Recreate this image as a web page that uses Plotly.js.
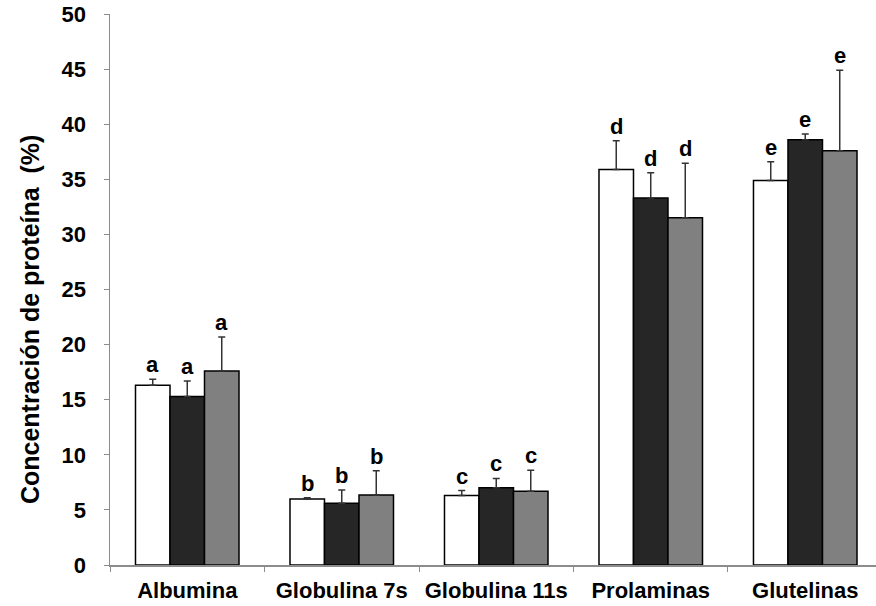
<!DOCTYPE html>
<html>
<head>
<meta charset="utf-8">
<script src="https://cdn.plot.ly/plotly-3.0.1.min.js"></script>
<style>html,body{margin:0;padding:0;background:#fff;}#chart{width:876px;height:606px;}</style>
</head>
<body>
<div id="chart"></div>
<script>
const categories = ["Albumina", "Globulina 7s", "Globulina 11s", "Prolaminas", "Glutelinas"];
const serie1 = [16.3, 6.0, 6.3, 35.9, 34.9];
const serie2 = [15.3, 5.6, 7.0, 33.3, 38.6];
const serie3 = [17.6, 6.35, 6.7, 31.5, 37.6];
const err1 = [0.55, 0.1, 0.45, 2.6, 1.7];
const err2 = [1.4, 1.2, 0.85, 2.3, 0.5];
const err3 = [3.1, 2.2, 1.9, 4.95, 7.3];
const letters = ["a", "b", "c", "d", "e"];
const yTicks = [0, 5, 10, 15, 20, 25, 30, 35, 40, 45, 50];
const yTitle = "Concentración de proteína  (%)";

const fills = ["#ffffff", "#262626", "#808080"];
const series = [serie1, serie2, serie3];
const errs = [err1, err2, err3];
const bargap = 0.33;
const barW = (1 - bargap) / 3;
const FONT = "Liberation Sans, Arial, sans-serif";

const traces = series.map((vals, si) => ({
  type: "bar",
  x: categories,
  y: vals,
  name: "Serie " + (si + 1),
  marker: {color: fills[si], line: {color: "#000000", width: 1.5}},
  error_y: {type: "data", symmetric: false, array: errs[si], arrayminus: vals.map(() => 0),
            color: "#333333", thickness: 1.5, width: 3.5},
  showlegend: false,
  hoverinfo: "none"
}));

const annotations = [];
series.forEach((vals, si) => {
  vals.forEach((v, ci) => {
    annotations.push({
      x: ci + (si - 1) * barW,
      y: v + errs[si][ci],
      xref: "x", yref: "y",
      text: letters[ci],
      showarrow: false,
      yanchor: "bottom",
      yshift: 0,
      font: {family: FONT, size: 22, color: "#000", weight: "bold"}
    });
  });
});
annotations.push({
  xref: "paper", yref: "paper",
  x: -0.1044, y: 0.4446,
  xanchor: "center", yanchor: "middle",
  text: yTitle, textangle: -90, showarrow: false,
  font: {family: FONT, size: 25, color: "#000", weight: "bold"}
});

const layout = {
  width: 876, height: 606,
  margin: {l: 110, r: 0, t: 14, b: 41},
  paper_bgcolor: "#ffffff", plot_bgcolor: "#ffffff",
  barmode: "group", bargap: bargap, bargroupgap: 0,
  font: {family: FONT, color: "#000"},
  xaxis: {
    type: "category",
    range: [-0.5, 4.458],
    showline: true, linecolor: "#8c8c8c", linewidth: 1.5,
    ticks: "outside", tickson: "boundaries", ticklen: 5, tickcolor: "#8c8c8c",
    tickfont: {size: 22, weight: "bold", family: FONT},
    ticklabelstandoff: 5,
    showgrid: false, zeroline: false, fixedrange: true
  },
  yaxis: {
    range: [0, 50],
    tickvals: yTicks,
    showline: true, linecolor: "#8c8c8c", linewidth: 1.5,
    ticks: "outside", ticklen: 5, tickcolor: "#8c8c8c",
    tickfont: {size: 22, weight: "bold", family: FONT},
    ticklabelstandoff: 13,
    showgrid: false, zeroline: false
  },
  annotations: annotations
};

Plotly.newPlot("chart", traces, layout, {displayModeBar: false, staticPlot: true});
</script>
</body>
</html>
